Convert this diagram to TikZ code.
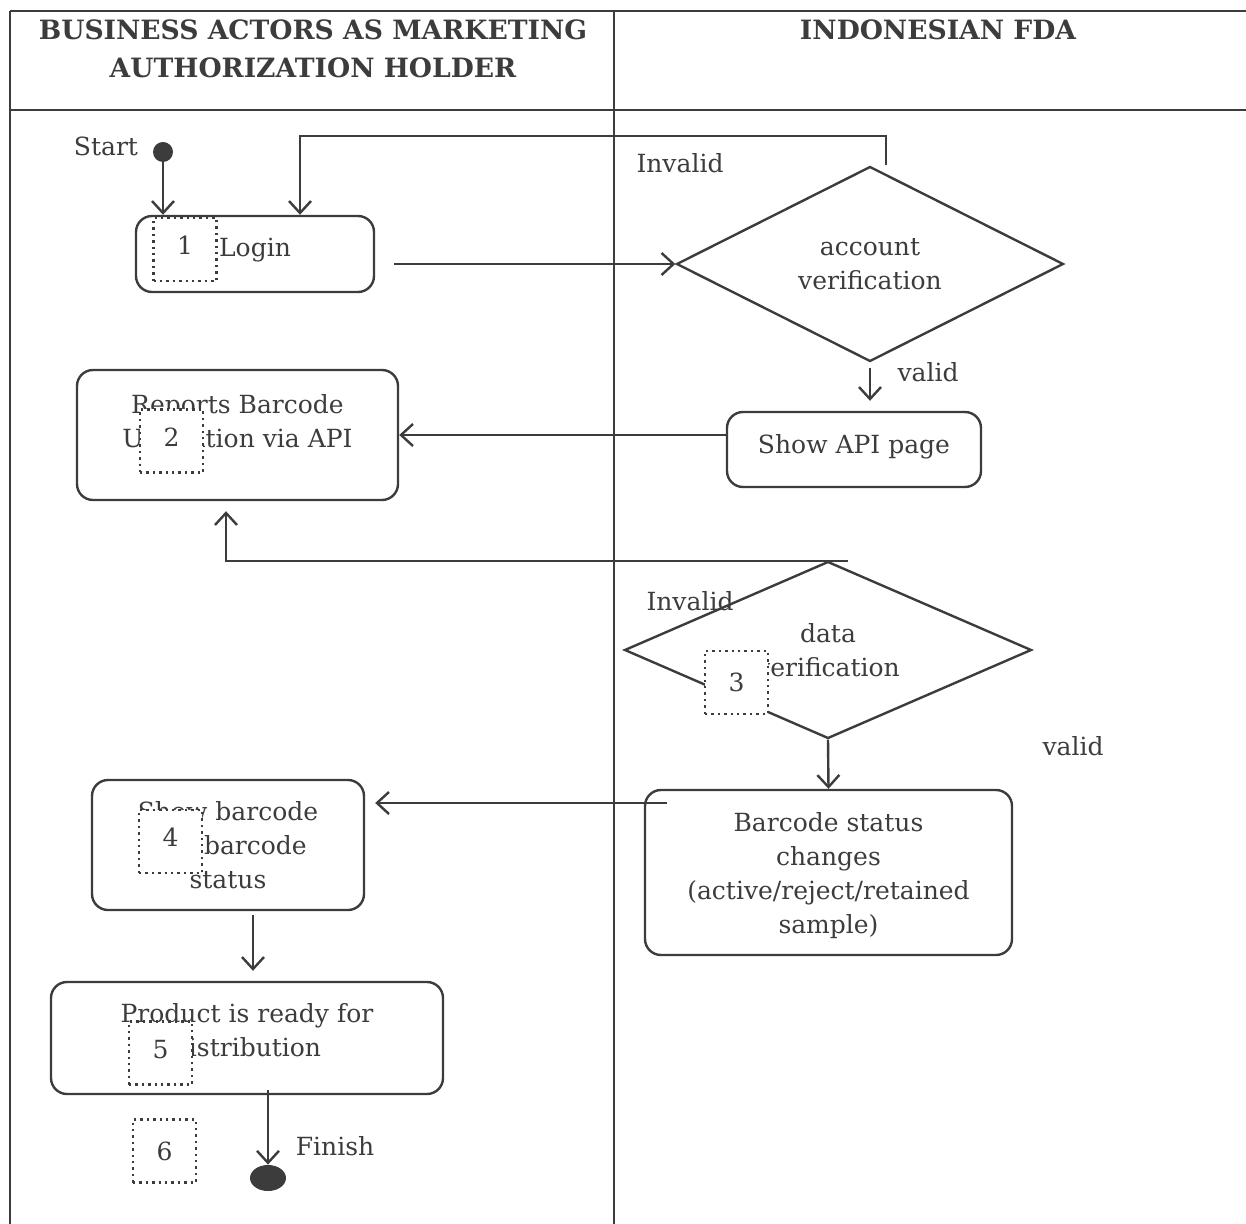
\documentclass[tikz,border=0pt]{standalone}
\usepackage{fontspec}
\setmainfont{DejaVu Serif}
\usetikzlibrary{shapes.geometric,arrows.meta}
\definecolor{ink}{HTML}{3C3C3C}
\tikzset{
  flow/.style={draw=ink,line width=1.2pt,-{Straight Barb[length=6pt,width=11pt,line width=1.2pt]}},
  actbox/.style={draw=ink,line width=1.2pt,rounded corners=8pt,align=center,inner sep=0pt},
  decide/.style={diamond,draw=ink,line width=1.2pt,align=center,inner sep=0pt},
  numbox/.style={draw=ink,dotted,line width=1.2pt,fill=white,minimum width=31.5pt,minimum height=31.5pt,inner sep=0pt},
  lbl/.style={text=ink,inner sep=0pt},
}

\begin{document}
\begin{tikzpicture}[x=0.5pt,y=-0.5pt,font=\fontsize{12.5}{17}\selectfont,text=ink]
\useasboundingbox (0,0) rectangle (1246,1224);

\draw[ink,line width=1pt] (10,11) -- (1246,11);
\draw[ink,line width=1pt] (10,110) -- (1246,110);
\draw[ink,line width=1pt] (10,11) -- (10,1224);
\draw[ink,line width=1pt] (614,11) -- (614,1224);

\node[lbl,align=center,font=\bfseries\fontsize{13.3}{19}\selectfont] (hdrA) at (313,49) {BUSINESS ACTORS AS MARKETING\\AUTHORIZATION HOLDER};
\node[lbl,font=\bfseries\fontsize{13.3}{19}\selectfont] (hdrB) at (938,30) {INDONESIAN FDA};

\node[circle,fill=ink,minimum size=10pt,inner sep=0pt] (start) at (163,152) {};
\node[lbl] (starttxt) at (106,146) {Start};

\node[actbox,minimum width=119pt,minimum height=38pt,text depth=7pt] (login) at (255,254) {Login};
\node[decide,minimum width=193.5pt,minimum height=96pt] (acct) at (870,264) {account\\verification};
\node[actbox,minimum width=127pt,minimum height=37.5pt,text depth=5pt] (apipage) at (854,449.5) {Show API page};
\node[actbox,minimum width=160.5pt,minimum height=65pt,text depth=14pt] (reports) at (237.5,435) {Reports Barcode\\Utilization via API};
\node[decide,aspect=2.3,minimum width=203.5pt,minimum height=88.5pt] (data) at (828,650) {data\\verification};
\node[actbox,minimum width=183.5pt,minimum height=82.5pt,text depth=0pt] (status) at (828.5,872.5) {Barcode status\\changes\\(active/reject/retained\\sample)};
\node[actbox,minimum width=136pt,minimum height=65pt] (showbc) at (228,845) {Show barcode\\and barcode\\status};
\node[actbox,minimum width=196pt,minimum height=56pt,text depth=8pt] (product) at (247,1038) {Product is ready for\\distribution};
\node[ellipse,fill=ink,minimum width=18pt,minimum height=13pt,inner sep=0pt] (finish) at (268,1178) {};
\node[lbl] (finishtxt) at (335,1146) {Finish};

\node[lbl] (invA) at (680,163) {Invalid};
\node[lbl] (valA) at (928,372) {valid};
\node[lbl] (invB) at (690,601) {Invalid};
\node[lbl] (valB) at (1073,746) {valid};

\coordinate (backA) at (886,136);
\coordinate (backB) at (300,136);
\coordinate (backC) at (848,561);
\coordinate (backD) at (226,561);
\coordinate (goA) at (394,264);
\coordinate (goB) at (667,803);
\coordinate (goC) at (253,915);
\coordinate (goD) at (268,1090);

\draw[flow] (start) -- (start |- login.north);
\draw[flow] (backA |- acct.north) -- (backA) -- (backB) -- (backB |- login.north);
\draw[flow] (goA) -- (acct.west);
\draw[flow,shorten <=2.5pt,shorten >=5pt] (acct.south) -- (acct.south |- apipage.north);
\draw[flow] (apipage.west |- reports.east) -- (reports.east);
\draw[flow,shorten >=5pt] (backC) -- (backD) -- (backD |- reports.south);
\draw[flow] (data.south) -- (status.north);
\draw[flow,shorten >=5pt] (goB) -- (goB -| showbc.east);
\draw[flow,shorten >=5pt] (goC) -- (goC |- product.north);
\draw[flow] (goD) -- (finish.north);

\node[numbox,text depth=4pt] (stepA) at (185,249.5) {1};
\node[numbox,text depth=4pt] (stepB) at (171.5,441) {2};
\node[numbox] (stepC) at (736.5,682.5) {3};
\node[numbox,text depth=4pt] (stepD) at (170.5,841.5) {4};
\node[numbox,text depth=4pt] (stepE) at (160.5,1053) {5};
\node[numbox] (stepF) at (164.5,1151) {6};
\end{tikzpicture}
\end{document}
